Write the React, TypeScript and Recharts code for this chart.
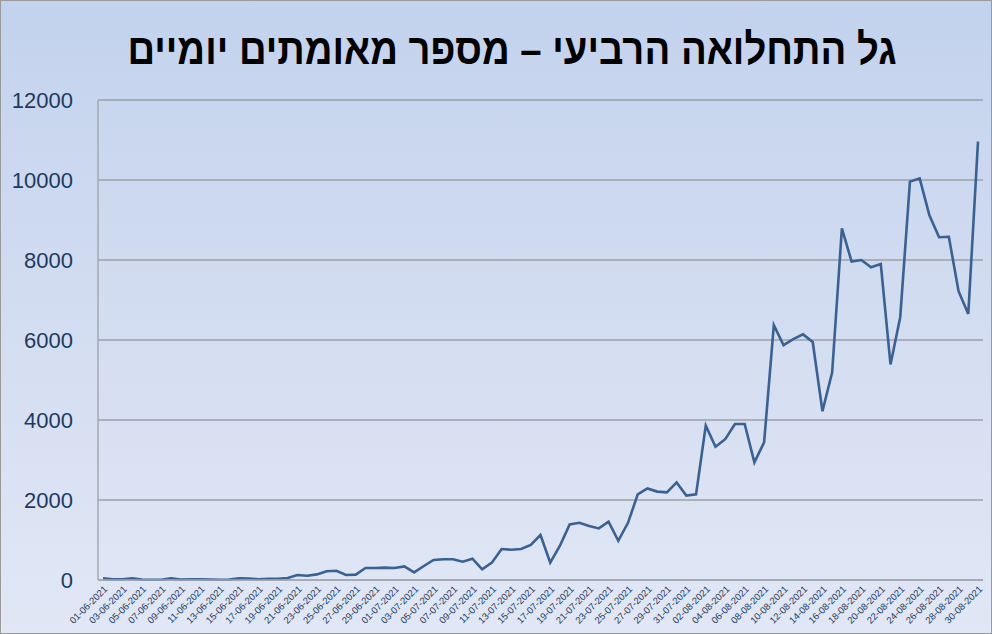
import React from "react";
import { LineChart, Line, XAxis, YAxis, CartesianGrid } from "recharts";

const TITLE = "גל התחלואה הרביעי – מספר מאומתים יומיים";

const junDates = [
  "01-06-2021","02-06-2021","03-06-2021","04-06-2021","05-06-2021","06-06-2021","07-06-2021","08-06-2021","09-06-2021","10-06-2021",
  "11-06-2021","12-06-2021","13-06-2021","14-06-2021","15-06-2021","16-06-2021","17-06-2021","18-06-2021","19-06-2021","20-06-2021",
  "21-06-2021","22-06-2021","23-06-2021","24-06-2021","25-06-2021","26-06-2021","27-06-2021","28-06-2021","29-06-2021","30-06-2021",
];
const julDates = [
  "01-07-2021","02-07-2021","03-07-2021","04-07-2021","05-07-2021","06-07-2021","07-07-2021","08-07-2021","09-07-2021","10-07-2021",
  "11-07-2021","12-07-2021","13-07-2021","14-07-2021","15-07-2021","16-07-2021","17-07-2021","18-07-2021","19-07-2021","20-07-2021",
  "21-07-2021","22-07-2021","23-07-2021","24-07-2021","25-07-2021","26-07-2021","27-07-2021","28-07-2021","29-07-2021","30-07-2021",
  "31-07-2021",
];
const augDates = [
  "01-08-2021","02-08-2021","03-08-2021","04-08-2021","05-08-2021","06-08-2021","07-08-2021","08-08-2021","09-08-2021","10-08-2021",
  "11-08-2021","12-08-2021","13-08-2021","14-08-2021","15-08-2021","16-08-2021","17-08-2021","18-08-2021","19-08-2021","20-08-2021",
  "21-08-2021","22-08-2021","23-08-2021","24-08-2021","25-08-2021","26-08-2021","27-08-2021","28-08-2021","29-08-2021","30-08-2021",
];

const junCases = [40,15,20,40,10,5,5,40,10,20,20,10,5,10,40,35,20,30,30,50,125,105,140,220,230,125,135,300,300,310];
const julCases = [300,340,190,350,500,517,517,458,533,267,433,775,758,775,875,1125,433,858,1390,1430,1350,1290,1460,980,1430,2140,2290,2210,2190,2440,2110];
const augCases = [2140,3860,3330,3520,3900,3900,2940,3440,6370,5870,6020,6140,5950,4220,5190,8790,7960,8000,7820,7900,5390,6570,9960,10040,9120,8570,8580,7220,6650,10960];

const yTicks = [0, 2000, 4000, 6000, 8000, 10000, 12000];

const dates = [...junDates, ...julDates, ...augDates];
const cases = [...junCases, ...julCases, ...augCases];
const data = dates.map((d, i) => ({ date: d, cases: cases[i] }));

const LABEL_COLOR = "#1f3a60";

const XTick = (props: any) => {
  const { x, y, payload } = props;
  return (
    <text
      x={x}
      y={y}
      transform={`rotate(-45, ${x}, ${y})`}
      textAnchor="end"
      dy={9}
      dx={-2}
      fontSize={9.5}
      fontFamily="Liberation Sans, Arial, sans-serif"
      fill={LABEL_COLOR}
    >
      {payload.value}
    </text>
  );
};

export default function App() {
  return (
    <div
      style={{
        position: "absolute",
        left: 0,
        top: 0,
        width: 992,
        height: 634,
        boxSizing: "border-box",
        border: "1px solid #9a9a9a",
        background: "linear-gradient(to bottom, #c3d2ed 0%, #d3ddf1 50%, #e1e7f5 100%)",
        overflow: "hidden",
      }}
    >
      <div
        style={{
          position: "absolute",
          left: 0,
          top: 22,
          width: 1022,
          textAlign: "center",
          fontFamily: "Liberation Sans, Arial, sans-serif",
          fontWeight: "bold",
          fontSize: 43,
          color: "#000",
          direction: "rtl",
          lineHeight: "52px",
          transform: "scaleX(0.89)",
          transformOrigin: "511px 0",
        }}
      >
        {TITLE}
      </div>
      <div style={{ position: "absolute", left: -1, top: -1 }}>
        <LineChart
          width={992}
          height={634}
          data={data}
          margin={{ top: 100, right: 9, bottom: 0, left: 0 }}
        >
          <CartesianGrid vertical={false} stroke="#9c9fa6" strokeWidth={1.3} />
          <XAxis
            dataKey="date"
            interval={1}
            height={54}
            padding={{ left: 5, right: 5 }}
            tickLine={false}
            tickSize={0}
            axisLine={{ stroke: "#a5a9b0", strokeWidth: 1.5 }}
            tick={<XTick />}
          />
          <YAxis
            domain={[0, 12000]}
            ticks={yTicks}
            width={98}
            tickLine={false}
            tickSize={0}
            tickMargin={25}
            axisLine={{ stroke: "#a5a9b0", strokeWidth: 1.5 }}
            tick={{ fontSize: 22, fill: LABEL_COLOR, fontFamily: "Liberation Sans, Arial, sans-serif" }}
          />
          <Line
            type="linear"
            dataKey="cases"
            stroke="#3a6191"
            strokeWidth={2.6}
            dot={false}
            isAnimationActive={false}
          />
        </LineChart>
      </div>
    </div>
  );
}
